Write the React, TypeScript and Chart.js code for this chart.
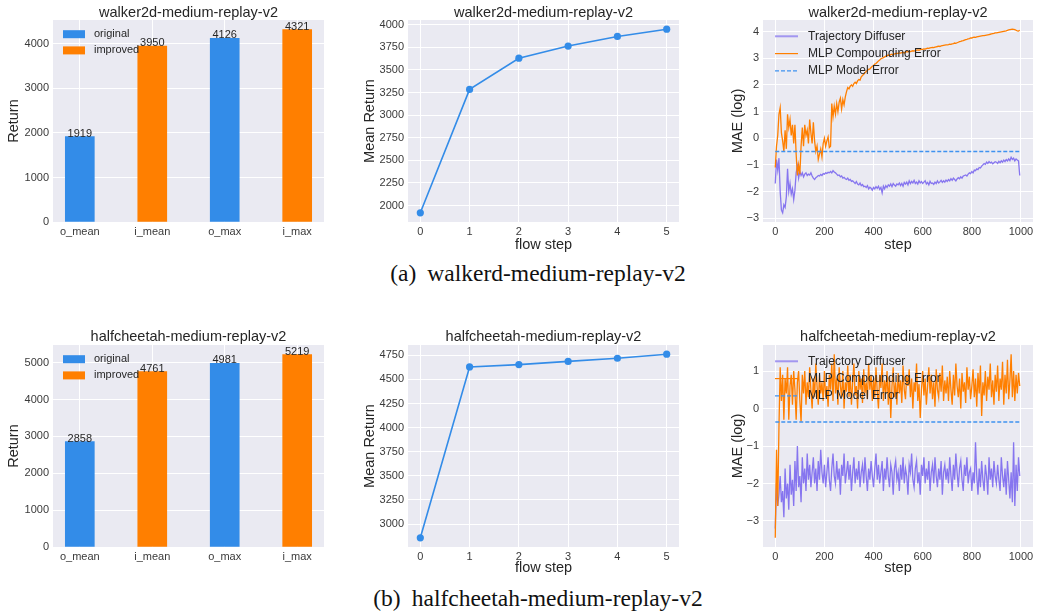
import React, { useEffect, useRef } from 'react';
import { Chart, registerables } from 'chart.js';

Chart.register(...registerables);

// ---------------- data ----------------
const barCategories = ['o_mean', 'i_mean', 'o_max', 'i_max'];
const barCategoryTicks = [0, 1, 2, 3];
const barSeries = ['original', 'improved', 'original', 'improved'];
const walkerBarReturns = [1919, 3950, 4126, 4321];
const cheetahBarReturns = [2858, 4761, 4981, 5219];
const walkerReturnTicks = [0, 1000, 2000, 3000, 4000];
const cheetahReturnTicks = [0, 1000, 2000, 3000, 4000, 5000];

const flowSteps = [0, 1, 2, 3, 4, 5];
const walkerMeanReturn = [1919, 3284, 3629, 3763, 3870, 3950];
const cheetahMeanReturn = [2858, 4629, 4653, 4686, 4719, 4761];
const walkerMeanTicks = [2000, 2250, 2500, 2750, 3000, 3250, 3500, 3750, 4000];
const cheetahMeanTicks = [3000, 3250, 3500, 3750, 4000, 4250, 4500, 4750];

const maeStepStride = 5; // one sample every 5 steps, 0..995
const maeLastStep = 999;
const maeStepTicks = [0, 200, 400, 600, 800, 1000];
const walkerMaeTicks = [-3, -2, -1, 0, 1, 2, 3, 4];
const cheetahMaeTicks = [-3, -2, -1, 0, 1];

const walkerTrajDiffuser = [
  -1.7, -0.8, -1.2, -0.75, -2.0, -2.7, -2.8, -2.5, -2.6, -2.2, -1.15, -2.0, -1.7, -2.1, -1.9, -2.3, -1.95, -1.3, -1.05, -1.5,
  -1.25, -1.4, -1.3, -1.45, -1.35, -1.3, -1.4, -1.35, -1.38, -1.3, -1.42, -1.5, -1.55, -1.48, -1.45, -1.4, -1.42, -1.36, -1.4, -1.33,
  -1.35, -1.3, -1.32, -1.28, -1.3, -1.25, -1.3, -1.22, -1.27, -1.3, -1.35, -1.4, -1.38, -1.45, -1.42, -1.5, -1.47, -1.52, -1.55, -1.5,
  -1.58, -1.55, -1.62, -1.6, -1.65, -1.7, -1.63, -1.72, -1.75, -1.68, -1.78, -1.74, -1.82, -1.8, -1.85, -1.78, -1.9, -1.84, -1.88, -1.95,
  -1.85, -1.9, -1.82, -1.88, -1.8, -1.92, -1.85, -2.05, -1.8, -1.9, -1.78, -1.85, -1.75, -1.8, -1.72, -1.82, -1.7, -1.76, -1.8, -1.72,
  -1.75, -1.68, -1.78, -1.7, -1.8, -1.66, -1.72, -1.65, -1.75, -1.6, -1.7, -1.62, -1.68, -1.58, -1.7, -1.65, -1.72, -1.6, -1.68, -1.63,
  -1.7, -1.65, -1.6, -1.72, -1.66, -1.75, -1.62, -1.7, -1.68, -1.73, -1.65, -1.7, -1.6, -1.68, -1.64, -1.58, -1.66, -1.6, -1.65, -1.57,
  -1.62, -1.55, -1.6, -1.52, -1.58, -1.5, -1.55, -1.6, -1.53, -1.48, -1.52, -1.45, -1.5, -1.42, -1.4, -1.38, -1.42, -1.35, -1.3, -1.33,
  -1.25, -1.3, -1.2, -1.22, -1.15, -1.18, -1.1, -1.12, -1.05, -1.0, -0.95, -0.98, -0.9, -0.95, -0.88, -0.93, -0.9, -0.96, -0.92, -0.88,
  -0.9, -0.95, -0.87, -0.92, -0.85, -0.9, -0.82, -0.88, -0.8, -0.85, -0.78, -0.84, -0.72, -0.8, -0.75, -0.85, -0.78, -0.82, -0.85, -1.4,
];
const walkerMlpCompounding = [
  -1.1, -0.3, 0.1, 0.9, 1.15, 0.2, -0.1, -0.5, 0.3, -0.4, 0.9, 0.4, 0.7, 0.1, 0.5, -0.2, 0.5, -0.6, -1.4, -1.0,
  -1.35, -0.3, 0.4, -0.3, 0.5, 0.1, 0.3, -0.2, 0.7, 0.2, -0.2, 0.6, -0.1, -0.5, -0.3, -0.8, -0.6, -0.4, -0.7, -0.2,
  0.0, -0.3, -0.1, 0.05, -0.35, -0.3, 1.3, 0.8, 1.2, 0.9, 1.3, 1.0, 1.35, 1.5, 1.1, 1.45, 1.25, 1.55, 1.75, 1.9,
  1.85, 1.95, 2.0, 1.95, 2.05, 2.1, 2.05, 2.15, 2.2, 2.18, 2.3, 2.35, 2.4, 2.45, 2.5, 2.55, 2.58, 2.6, 2.65, 2.7,
  2.72, 2.78, 2.8, 2.85, 2.9, 2.93, 2.98, 3.0, 3.02, 3.05, 3.08, 3.1, 3.12, 3.1, 3.14, 3.15, 3.13, 3.16, 3.17, 3.18,
  3.18, 3.2, 3.19, 3.21, 3.22, 3.2, 3.23, 3.25, 3.24, 3.26, 3.25, 3.27, 3.28, 3.27, 3.29, 3.3, 3.31, 3.3, 3.32, 3.33,
  3.33, 3.35, 3.34, 3.36, 3.38, 3.37, 3.39, 3.4, 3.41, 3.4, 3.42, 3.43, 3.44, 3.45, 3.44, 3.46, 3.47, 3.48, 3.49, 3.5,
  3.5, 3.51, 3.53, 3.52, 3.54, 3.55, 3.57, 3.56, 3.58, 3.6, 3.62, 3.63, 3.65, 3.66, 3.68, 3.7, 3.71, 3.73, 3.74, 3.76,
  3.76, 3.78, 3.79, 3.78, 3.8, 3.81, 3.82, 3.83, 3.84, 3.85, 3.85, 3.86, 3.87, 3.88, 3.89, 3.9, 3.91, 3.92, 3.93, 3.95,
  3.95, 3.96, 3.97, 3.98, 3.99, 4.0, 4.01, 4.02, 4.03, 4.05, 4.06, 4.07, 4.08, 4.09, 4.08, 4.07, 4.05, 4.03, 4.02, 4.05,
];
const walkerMlpModelError = -0.5;

const cheetahTrajDiffuser = [
  -3.2, -2.0, -2.6, -2.3, -1.8, -2.5, -2.2, -2.9, -1.6, -2.4, -2.0, -2.7, -1.5, -2.3, -1.9, -2.6, -1.4, -2.2, -1.0, -2.1,
  -1.8, -2.5, -1.3, -2.0, -1.6, -2.2, -1.2, -1.9, -1.5, -2.1, -1.7, -1.3, -2.0, -1.6, -2.2, -1.4, -1.9, -1.1, -1.7, -2.0,
  -1.5, -2.1, -1.7, -1.3, -1.9, -2.2, -1.6, -1.2, -1.8, -2.0, -1.4, -1.9, -1.6, -2.3, -1.5, -1.8, -1.2, -2.0, -1.7, -1.4,
  -1.9, -1.5, -2.2, -1.7, -1.3, -2.0, -1.6, -1.9, -1.4, -2.1, -1.7, -1.5, -2.0, -1.3, -1.8, -2.2, -1.6, -1.9, -1.4, -1.8,
  -2.1, -1.6, -1.2, -1.9, -1.5, -2.0, -1.7, -1.4, -2.2, -1.6, -1.9, -1.3, -1.8, -2.1, -1.5, -1.7, -2.3, -1.6, -1.4, -1.9,
  -1.7, -2.2, -1.5, -1.9, -1.3, -2.0, -1.6, -1.8, -2.3, -1.5, -1.7, -1.2, -1.9, -2.1, -1.6, -1.4, -2.0, -1.7, -2.3, -1.5,
  -1.8, -1.3, -2.0, -1.6, -1.9, -1.4, -2.2, -1.7, -1.5, -2.0, -1.3, -1.8, -2.1, -1.6, -1.9, -1.4, -2.3, -1.7, -1.5, -1.9,
  -1.6, -2.0, -1.3, -1.8, -2.2, -1.5, -1.9, -1.2, -1.7, -2.1, -1.6, -1.4, -1.9, -2.2, -1.5, -1.8, -1.3, -2.0, -1.7, -1.6,
  -2.2, -1.7, -2.0, -0.9, -1.8, -2.3, -1.6, -2.1, -1.4, -1.9, -2.2, -1.5, -1.8, -2.3, -1.3, -1.9, -1.6, -2.1, -1.4, -1.8,
  -2.0, -1.5, -1.9, -2.2, -1.3, -1.8, -2.1, -1.6, -2.3, -1.4, -1.9, -2.4, -1.7, -2.5, -0.9, -2.6, -1.5, -2.2, -1.3, -1.8,
];
const cheetahMlpCompounding = [
  -3.45, -1.1, -2.6, -0.5, 1.1, 0.2, 0.9, -0.3, 0.8, 0.4, 1.1, -0.3, 0.6, 0.9, 0.1, 1.0, 0.5, -0.3, 0.7, 1.0,
  0.2, -0.35, 0.9, 0.4, 1.0, 0.1, 0.7, 0.3, 1.1, 0.5, 0.0, 0.8, 0.3, 1.2, 0.6, 0.1, 0.9, 0.4, 0.7, 0.2,
  1.0, 0.3, 0.6, 0.05, 0.9, 0.5, 1.2, 0.2, 1.45, 0.4, 0.8, 0.1, 1.1, 0.6, 0.3, 1.0, 0.0, 0.7, 0.45, 1.15,
  0.3, 0.9, 0.1, 0.7, 1.2, 0.35, 0.6, 0.0, 1.0, 0.5, 0.8, 0.15, 1.05, 0.4, 0.7, 0.25, 1.2, 0.5, 0.9, 0.2,
  0.8, 0.3, 1.1, 0.45, 0.0, 0.9, 0.55, 1.2, 0.2, 0.75, 0.4, 1.0, 0.1, 0.85, -0.25, 0.6, 1.1, 0.3, 0.7, 0.1,
  0.95, 0.4, 0.75, 0.15, 1.15, 0.5, 0.25, 0.9, 0.6, 1.05, 0.3, 0.8, 0.0, 0.7, 0.45, 1.2, 0.2, 0.65, -0.25, 0.5,
  1.0, 0.35, 0.8, 0.1, 0.6, 1.1, 0.4, 0.9, 0.25, 0.7, 0.05, 1.05, 0.5, 0.3, 0.95, 0.45, 1.15, 0.2, 0.75, 0.4,
  0.85, 0.2, 1.0, 0.5, 0.1, 0.9, 0.35, 1.2, 0.6, 0.3, 0.8, 0.0, 0.95, 0.45, 0.7, 0.15, 1.1, 0.5, 0.85, 0.25,
  0.6, 1.05, 0.3, 0.8, 0.05, 0.95, 0.4, 1.15, -0.2, 0.7, 0.35, 1.0, 0.2, 0.85, 0.5, 1.2, 0.3, 0.75, 0.1, 0.9,
  0.45, 1.15, 0.2, 0.8, 0.5, 1.25, 0.1, 0.9, 0.4, 1.3, 0.25, 0.75, 1.45, 0.3, 1.0, 0.2, 0.9, 0.4, 0.95, 0.6,
];
const cheetahMlpModelError = -0.36;

const maeLegendLabels = ['Trajectory Diffuser', 'MLP Compounding Error', 'MLP Model Error'];
const barLegendLabels = ['original', 'improved'];

// ---------------- style ----------------
const FONT = '"Liberation Sans", Arial, Helvetica, sans-serif';
const TEXT_C = '#262626';
const TICK_C = '#3a3a3a';
const BG = '#eaeaf2';
const BLUE = '#338ce8';
const ORANGE = '#ff7f00';
const PURPLE = 'rgba(123,104,238,0.9)';
const DASH_BLUE = '#3f92f0';
const Y_AXIS_W = 40;
const X_AXIS_H = 20;

type Cell = { x: number; y: number; w: number; h: number };
type Area = { L: number; T: number; R: number; B: number };
type Deco = {
  cell: Cell;
  title: string;
  titleY: number;
  yLabel: string;
  yLabelX: number;
  xLabel?: string;
  xLabelY?: number;
  barLegend?: boolean;
  lineLegend?: boolean;
  barLabels?: boolean;
};

const fmtNum = (v: number | string) => {
  const r = Math.round(Number(v) * 1000) / 1000;
  return r < 0 ? '\u2212' + Math.abs(r) : String(r);
};

function layoutFor(cell: Cell, area: Area) {
  return {
    autoPadding: false,
    padding: {
      left: area.L - cell.x - Y_AXIS_W,
      top: area.T - cell.y,
      right: cell.x + cell.w - area.R,
      bottom: cell.y + cell.h - area.B - X_AXIS_H,
    },
  };
}

function linScale(axis: 'x' | 'y', min: number, max: number, tickValues: number[], cb: (v: any) => string) {
  return {
    type: 'linear',
    min,
    max,
    offset: false,
    grid: { color: '#ffffff', lineWidth: 1, drawTicks: false, offset: false },
    border: { display: false },
    ticks: {
      autoSkip: false,
      maxRotation: 0,
      padding: axis === 'x' ? 3 : 4,
      color: TICK_C,
      font: { family: FONT, size: 11 },
      callback: cb,
    },
    afterBuildTicks: (s: any) => {
      s.ticks = tickValues.map((v) => ({ value: v }));
    },
    afterFit: (s: any) => {
      if (axis === 'x') s.height = X_AXIS_H;
      else s.width = Y_AXIS_W;
    },
  };
}

function makeDeco(d: Deco) {
  return {
    id: 'deco',
    beforeDraw(chart: any) {
      const { ctx, chartArea: a } = chart;
      ctx.save();
      ctx.fillStyle = BG;
      ctx.fillRect(a.left, a.top, a.right - a.left, a.bottom - a.top);
      ctx.restore();
    },
    afterDatasetsDraw(chart: any) {
      if (!d.barLabels) return;
      const { ctx } = chart;
      ctx.save();
      ctx.fillStyle = TEXT_C;
      ctx.font = `11px ${FONT}`;
      ctx.textAlign = 'center';
      ctx.textBaseline = 'alphabetic';
      chart.data.datasets.forEach((ds: any, di: number) => {
        const meta = chart.getDatasetMeta(di);
        meta.data.forEach((el: any, i: number) => {
          ctx.fillText(String(ds.data[i].y), el.x, el.y);
        });
      });
      ctx.restore();
    },
    afterDraw(chart: any) {
      const { ctx, chartArea: a } = chart;
      const ox = d.cell.x;
      const oy = d.cell.y;
      ctx.save();
      ctx.fillStyle = TEXT_C;
      ctx.font = `14.5px ${FONT}`;
      ctx.textAlign = 'center';
      ctx.textBaseline = 'middle';
      ctx.fillText(d.title, (a.left + a.right) / 2, d.titleY - oy);
      if (d.xLabel && d.xLabelY !== undefined) {
        ctx.fillText(d.xLabel, (a.left + a.right) / 2, d.xLabelY - oy);
      }
      ctx.save();
      ctx.translate(d.yLabelX - ox, (a.top + a.bottom) / 2);
      ctx.rotate(-Math.PI / 2);
      ctx.fillText(d.yLabel, 0, 0);
      ctx.restore();
      if (d.barLegend) {
        const colors = [BLUE, ORANGE];
        const rows = [a.top + 14.2, a.top + 30.4];
        ctx.font = `11px ${FONT}`;
        ctx.textAlign = 'left';
        barLegendLabels.forEach((lab, i) => {
          ctx.fillStyle = colors[i];
          ctx.fillRect(a.left + 10, rows[i] - 4, 22, 8);
          ctx.fillStyle = TEXT_C;
          ctx.fillText(lab, a.left + 41, rows[i]);
        });
      }
      if (d.lineLegend) {
        const rows = [a.top + 16.3, a.top + 33.6, a.top + 50.9];
        const styles = [
          { c: 'rgba(123,104,238,0.65)', w: 2, dash: [] as number[] },
          { c: ORANGE, w: 1.2, dash: [] as number[] },
          { c: DASH_BLUE, w: 1.3, dash: [4, 2] },
        ];
        ctx.font = `12px ${FONT}`;
        ctx.textAlign = 'left';
        maeLegendLabels.forEach((lab, i) => {
          const s = styles[i];
          ctx.save();
          ctx.strokeStyle = s.c;
          ctx.lineWidth = s.w;
          ctx.setLineDash(s.dash);
          ctx.beginPath();
          ctx.moveTo(a.left + 12, rows[i]);
          ctx.lineTo(a.left + 35, rows[i]);
          ctx.stroke();
          ctx.restore();
          ctx.fillStyle = TEXT_C;
          ctx.fillText(lab, a.left + 45, rows[i]);
        });
      }
      ctx.restore();
    },
  };
}

const baseOptions = (cell: Cell, area: Area) => ({
  responsive: false,
  maintainAspectRatio: false,
  animation: false as const,
  devicePixelRatio: 1,
  events: [] as any[],
  layout: layoutFor(cell, area),
  plugins: { legend: { display: false }, tooltip: { enabled: false }, title: { display: false } },
});

function barConfig(cell: Cell, area: Area, values: number[], yTicks: number[], title: string, titleY: number) {
  const maxY = Math.max(...values) * 1.05;
  const mk = (name: string) =>
    values
      .map((v, i) => ({ x: i, y: v, s: barSeries[i] }))
      .filter((p) => p.s === name)
      .map((p) => ({ x: p.x, y: p.y }));
  return {
    type: 'bar',
    data: {
      datasets: [
        { label: 'original', data: mk('original'), backgroundColor: BLUE, barThickness: 29, grouped: false },
        { label: 'improved', data: mk('improved'), backgroundColor: ORANGE, barThickness: 29, grouped: false },
      ],
    },
    options: {
      ...baseOptions(cell, area),
      scales: {
        x: linScale('x', -0.37, barCategories.length - 1 + 0.37, barCategoryTicks, (v: any) => barCategories[Number(v)] ?? ''),
        y: linScale('y', 0, maxY, yTicks, fmtNum),
      },
    },
    plugins: [makeDeco({ cell, title, titleY, yLabel: 'Return', yLabelX: 14.3, barLegend: true, barLabels: true })],
  };
}

function flowConfig(
  cell: Cell,
  area: Area,
  values: number[],
  yTicks: number[],
  title: string,
  titleY: number,
  xLabelY: number,
) {
  const lo = Math.min(...values);
  const hi = Math.max(...values);
  const m = (hi - lo) * 0.05;
  return {
    type: 'line',
    data: {
      datasets: [
        {
          label: 'mean return',
          data: flowSteps.map((s, i) => ({ x: s, y: values[i] })),
          borderColor: BLUE,
          backgroundColor: BLUE,
          borderWidth: 1.6,
          pointRadius: 3.6,
          pointBorderWidth: 0,
          pointBackgroundColor: BLUE,
          tension: 0,
        },
      ],
    },
    options: {
      ...baseOptions(cell, area),
      scales: {
        x: linScale('x', -0.25, 5.25, flowSteps, fmtNum),
        y: linScale('y', lo - m, hi + m, yTicks, fmtNum),
      },
    },
    plugins: [makeDeco({ cell, title, titleY, yLabel: 'Mean Return', yLabelX: 370, xLabel: 'flow step', xLabelY })],
  };
}

function maeConfig(
  cell: Cell,
  area: Area,
  traj: number[],
  mlp: number[],
  modelErr: number,
  yTicks: number[],
  title: string,
  titleY: number,
  xLabelY: number,
) {
  const all = [...traj, ...mlp, modelErr];
  const lo = Math.min(...all);
  const hi = Math.max(...all);
  const m = (hi - lo) * 0.05;
  const xm = maeLastStep * 0.05;
  const toPts = (arr: number[]) => arr.map((y, i) => ({ x: i * maeStepStride, y }));
  const lastX = (traj.length - 1) * maeStepStride;
  return {
    type: 'line',
    data: {
      datasets: [
        {
          label: 'MLP Model Error',
          data: [
            { x: 0, y: modelErr },
            { x: lastX, y: modelErr },
          ],
          borderColor: DASH_BLUE,
          borderWidth: 1.3,
          borderDash: [4, 2],
          pointRadius: 0,
          order: 0,
        },
        {
          label: 'MLP Compounding Error',
          data: toPts(mlp),
          borderColor: ORANGE,
          borderWidth: 1.3,
          pointRadius: 0,
          tension: 0,
          order: 1,
        },
        {
          label: 'Trajectory Diffuser',
          data: toPts(traj),
          borderColor: PURPLE,
          borderWidth: 1.3,
          pointRadius: 0,
          tension: 0,
          order: 2,
        },
      ],
    },
    options: {
      ...baseOptions(cell, area),
      scales: {
        x: linScale('x', -xm, maeLastStep + xm, maeStepTicks, fmtNum),
        y: linScale('y', lo - m, hi + m, yTicks, fmtNum),
      },
    },
    plugins: [
      makeDeco({ cell, title, titleY, yLabel: 'MAE (log)', yLabelX: 738.3, xLabel: 'step', xLabelY, lineLegend: true }),
    ],
  };
}

const WALKER = 'walker2d-medium-replay-v2';
const CHEETAH = 'halfcheetah-medium-replay-v2';

type PanelDef = { cell: Cell; build: (cell: Cell) => any };

const PANELS: PanelDef[] = [
  {
    cell: { x: 0, y: 0, w: 340, h: 258 },
    build: (c) => barConfig(c, { L: 53, T: 20, R: 324, B: 222 }, walkerBarReturns, walkerReturnTicks, WALKER, 12.5),
  },
  {
    cell: { x: 340, y: 0, w: 350, h: 258 },
    build: (c) =>
      flowConfig(c, { L: 408, T: 20, R: 679, B: 222 }, walkerMeanReturn, walkerMeanTicks, WALKER, 12.5, 245),
  },
  {
    cell: { x: 690, y: 0, w: 347, h: 258 },
    build: (c) =>
      maeConfig(
        c,
        { L: 763, T: 20, R: 1033, B: 222 },
        walkerTrajDiffuser,
        walkerMlpCompounding,
        walkerMlpModelError,
        walkerMaeTicks,
        WALKER,
        12.5,
        245,
      ),
  },
  {
    cell: { x: 0, y: 322, w: 340, h: 260 },
    build: (c) => barConfig(c, { L: 53, T: 345, R: 324, B: 547 }, cheetahBarReturns, cheetahReturnTicks, CHEETAH, 337),
  },
  {
    cell: { x: 340, y: 322, w: 350, h: 260 },
    build: (c) =>
      flowConfig(c, { L: 408, T: 345, R: 679, B: 547 }, cheetahMeanReturn, cheetahMeanTicks, CHEETAH, 337, 568),
  },
  {
    cell: { x: 690, y: 322, w: 347, h: 260 },
    build: (c) =>
      maeConfig(
        c,
        { L: 763, T: 345, R: 1033, B: 547 },
        cheetahTrajDiffuser,
        cheetahMlpCompounding,
        cheetahMlpModelError,
        cheetahMaeTicks,
        CHEETAH,
        337,
        568,
      ),
  },
];

const CAPTIONS = [
  { tag: '(a)', text: 'walkerd-medium-replay-v2', y: 273 },
  { tag: '(b)', text: 'halfcheetah-medium-replay-v2', y: 598 },
];

export default function App() {
  const canvases = useRef<(HTMLCanvasElement | null)[]>([]);

  useEffect(() => {
    const charts: Chart[] = [];
    PANELS.forEach((p, i) => {
      const el = canvases.current[i];
      if (el) charts.push(new Chart(el, p.build(p.cell) as any));
    });
    return () => charts.forEach((c) => c.destroy());
  }, []);

  return (
    <div
      style={{
        position: 'absolute',
        left: 0,
        top: 0,
        width: 1037,
        height: 616,
        background: '#ffffff',
        overflow: 'hidden',
      }}
    >
      {PANELS.map((p, i) => (
        <canvas
          key={i}
          ref={(el) => {
            canvases.current[i] = el;
          }}
          width={p.cell.w}
          height={p.cell.h}
          style={{ position: 'absolute', left: p.cell.x, top: p.cell.y, width: p.cell.w, height: p.cell.h }}
        />
      ))}
      {CAPTIONS.map((c, i) => (
        <div
          key={i}
          style={{
            position: 'absolute',
            left: 238,
            width: 600,
            top: c.y - 14,
            height: 28,
            lineHeight: '28px',
            textAlign: 'center',
            fontFamily: '"Liberation Serif", "Times New Roman", serif',
            fontSize: 23.5,
            color: '#111',
            whiteSpace: 'nowrap',
          }}
        >
          <span>{c.tag}</span>
          <span style={{ marginLeft: 11 }}>{c.text}</span>
        </div>
      ))}
    </div>
  );
}
